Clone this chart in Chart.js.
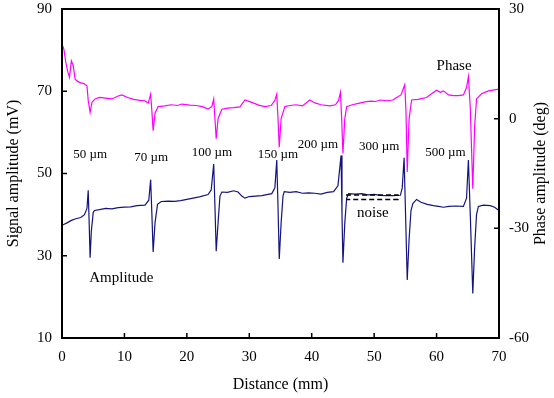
<!DOCTYPE html>
<html lang="en">
<head>
  <meta charset="UTF-8" />
  <title>Signal and phase amplitude</title>
  <style>
    html, body { margin: 0; padding: 0; background: #fff; }
    #wrap { width: 554px; height: 398px; }
  </style>
</head>
<body>
  <div id="wrap"><canvas id="chart" width="554" height="398"></canvas></div>

  <script src="https://cdn.jsdelivr.net/npm/chart.js"></script>
  <script>
    // Distance (mm) and signal amplitude (mV)
    const ampX = [0, 0.8, 1.5, 2.2, 3.0, 3.6, 4.0, 4.2, 4.35, 4.5, 4.7, 5.0, 5.2, 6, 7, 8, 9, 10, 11, 12, 13.3, 13.9, 14.2, 14.4, 14.6, 14.9, 15.3, 15.9, 17, 18, 19, 20, 21, 22, 23.4, 23.9, 24.3, 24.5, 24.7, 25.0, 25.3, 25.6, 26.5, 27.5, 28.2, 28.8, 29.3, 30, 31, 32, 33.6, 34.1, 34.4, 34.6, 34.8, 35.1, 35.4, 35.6, 36.5, 37.5, 38.5, 39.5, 40.5, 41.5, 42.5, 43.5, 44.2, 44.7, 44.85, 45.0, 45.3, 45.6, 45.9, 47, 48, 49, 50, 51, 52, 53, 54.2, 54.5, 54.8, 55.0, 55.3, 55.6, 55.9, 56.2, 56.8, 57.5, 58.5, 59.5, 60.3, 61.1, 62, 63, 64.3, 64.8, 65.1, 65.4, 65.8, 66.1, 66.4, 66.7, 67.5, 68.6, 69.3, 70];
    const ampY = [37.4, 38.0, 38.6, 39.0, 39.3, 40.0, 41.5, 45.9, 38, 29.5, 36, 40.5, 41.0, 41.2, 41.5, 41.4, 41.7, 41.8, 41.9, 42.2, 42.3, 43.5, 48.5, 40, 30.9, 38, 42.5, 43.2, 43.3, 43.2, 43.4, 43.7, 44.0, 44.3, 44.9, 46, 52.3, 42, 31.1, 38, 44.5, 45.5, 45.4, 45.8, 45.5, 44.5, 44.0, 44.4, 44.5, 44.6, 45.1, 46.5, 53.3, 42, 29.2, 38, 44.5, 45.6, 45.4, 45.6, 45.2, 45.3, 45.2, 45.0, 45.4, 45.6, 47, 54.4, 40, 28.3, 38, 44, 45.1, 45.0, 45.1, 44.8, 44.9, 44.7, 44.6, 44.6, 44.7, 46.5, 53.8, 42, 24.1, 34, 41, 42.7, 43.7, 43.0, 42.5, 42.2, 42.0, 41.8, 42.0, 42.1, 42.0, 44, 53.3, 40, 20.8, 32, 40, 42.0, 42.3, 42.2, 41.8, 41.0];

    // Distance (mm) and phase amplitude (deg)
    const phaseX = [0, 0.3, 0.6, 0.9, 1.2, 1.5, 1.8, 2.1, 2.5, 3.0, 3.5, 4.0, 4.2, 4.5, 4.8, 5.3, 6, 7, 8, 9, 9.6, 10.5, 11.5, 12.5, 13.3, 13.8, 14.2, 14.4, 14.6, 14.9, 15.4, 16.5, 17.5, 18.5, 19.2, 20.5, 21.5, 22.5, 23.4, 24.0, 24.3, 24.5, 24.7, 25.0, 25.6, 26.5, 27.5, 28.5, 29.3, 30.5, 31.5, 32.5, 33.5, 34.1, 34.4, 34.6, 34.8, 35.1, 35.7, 36.5, 37.5, 38.5, 39.7, 40.5, 41.5, 42.9, 43.8, 44.3, 44.6, 44.8, 45.0, 45.3, 45.6, 46.5, 47.5, 48.5, 49.5, 50.2, 51.0, 52.0, 53.0, 53.6, 54.3, 54.9, 55.1, 55.3, 55.6, 56.0, 57.0, 58.4, 59.2, 60.0, 60.6, 61.1, 61.9, 62.7, 63.5, 64.3, 64.8, 65.1, 65.4, 65.8, 66.1, 66.4, 67.2, 68.3, 69.0, 70.0];
    const phaseY = [20.4, 19, 15.5, 13, 11.3, 15.8, 14.5, 10.8, 10.2, 9.8, 9.6, 9.0, 5, 1.7, 4.5, 5.4, 5.8, 5.6, 5.4, 6.2, 6.5, 5.8, 5.3, 5.0, 4.9, 4.2, 6.7, 2, -3.3, 1.5, 3.3, 3.5, 3.8, 3.6, 4.0, 3.7, 3.6, 3.3, 2.6, 3.3, 5.4, 0, -5.5, 0, 2.6, 2.9, 3.0, 3.2, 5.1, 4.4, 3.7, 3.3, 3.6, 5, 6.7, 0, -7.8, 0, 3.3, 3.6, 3.8, 3.5, 5.1, 4.3, 3.8, 3.5, 3.8, 5, 7.2, 0, -9.5, 0, 3.3, 3.8, 4.2, 4.6, 4.8, 4.7, 5.1, 4.9, 5.1, 5.8, 6.5, 9.3, 2, -14.6, 0, 5.1, 5.3, 5.8, 6.8, 7.8, 7.2, 7.6, 6.5, 6.3, 6.3, 6.5, 8.5, 11.5, 3, -19.2, -2, 5.4, 6.8, 7.6, 7.8, 8.1];

    // Axis ticks
    const xTicks = [0, 10, 20, 30, 40, 50, 60, 70];
    const leftTicks = [10, 30, 50, 70, 90];
    const rightTicks = [-60, -30, 0, 30];

    // Text notes, placed in data units (x in mm, y in mV)
    const noteText = ['50 \u00b5m', '70 \u00b5m', '100 \u00b5m', '150 \u00b5m', '200 \u00b5m', '300 \u00b5m', '500 \u00b5m', 'Amplitude', 'Phase', 'noise'];
    const noteX = [4.5, 14.3, 24.0, 34.6, 41.0, 50.8, 61.4, 9.5, 62.8, 49.8];
    const noteY = [54.6, 53.9, 55.1, 54.6, 57.0, 56.5, 55.1, 24.5, 76.2, 40.3];
    const noteSize = [13, 13, 13, 13, 13, 13, 13, 15, 15, 15];

    // Noise band (dashed box, mm and mV)
    const noiseFrom = 45.5, noiseTo = 53.8;
    const noiseLevels = [44.8, 43.7];

    const rightTitle = 'Phase amplitude (deg)';
    const serif = '"Liberation Serif", "DejaVu Serif", serif';

    const frameAndNotes = {
      id: 'frameAndNotes',
      afterDatasetsDraw(chart) {
        const { ctx, chartArea: a, scales } = chart;
        const x = scales.x, y = scales.y, y2 = scales.y2;
        ctx.save();

        // noise band
        const nx0 = x.getPixelForValue(noiseFrom), nx1 = x.getPixelForValue(noiseTo);
        const ny0 = y.getPixelForValue(noiseLevels[0]), ny1 = y.getPixelForValue(noiseLevels[1]);
        ctx.strokeStyle = '#000';
        ctx.lineWidth = 1.5;
        ctx.setLineDash([5, 3]);
        ctx.beginPath();
        ctx.moveTo(nx0, ny0);
        ctx.lineTo(nx1, ny0);
        ctx.lineTo(nx1, ny1);
        ctx.lineTo(nx0, ny1);
        ctx.stroke();
        ctx.setLineDash([]);

        // frame
        ctx.lineWidth = 2;
        ctx.strokeRect(a.left, a.top, a.right - a.left, a.bottom - a.top);

        // inward ticks
        ctx.lineWidth = 1.5;
        ctx.beginPath();
        xTicks.forEach(v => {
          const px = x.getPixelForValue(v);
          ctx.moveTo(px, a.bottom);
          ctx.lineTo(px, a.bottom - 5);
        });
        leftTicks.forEach(v => {
          const py = y.getPixelForValue(v);
          ctx.moveTo(a.left, py);
          ctx.lineTo(a.left + 5, py);
        });
        rightTicks.forEach(v => {
          const py = y2.getPixelForValue(v);
          ctx.moveTo(a.right, py);
          ctx.lineTo(a.right - 5, py);
        });
        ctx.stroke();

        // text notes
        ctx.fillStyle = '#000';
        ctx.textAlign = 'center';
        ctx.textBaseline = 'middle';
        noteText.forEach((t, i) => {
          ctx.font = noteSize[i] + 'px ' + serif;
          ctx.fillText(t, x.getPixelForValue(noteX[i]), y.getPixelForValue(noteY[i]));
        });

        // right axis title, reading bottom to top
        ctx.font = '16px ' + serif;
        ctx.translate(y2.right - 13, (a.top + a.bottom) / 2);
        ctx.rotate(-Math.PI / 2);
        ctx.fillText(rightTitle, 0, 0);
        ctx.restore();
      }
    };

    const tickFont = { family: serif, size: 15 };
    const titleFont = { family: serif, size: 16 };

    function fixWidth(w) {
      return s => { s.width = w; s.paddingTop = 0; s.paddingBottom = 0; };
    }

    new Chart(document.getElementById('chart'), {
      type: 'line',
      data: {
        datasets: [
          {
            label: 'Amplitude',
            data: ampX.map((v, i) => ({ x: v, y: ampY[i] })),
            borderColor: '#14147f',
            borderWidth: 1.2,
            pointRadius: 0,
            tension: 0,
            yAxisID: 'y'
          },
          {
            label: 'Phase',
            data: phaseX.map((v, i) => ({ x: v, y: phaseY[i] })),
            borderColor: '#ff00ff',
            borderWidth: 1.2,
            pointRadius: 0,
            tension: 0,
            yAxisID: 'y2'
          }
        ]
      },
      options: {
        responsive: false,
        animation: false,
        layout: { autoPadding: false, padding: { top: 9, left: 0, right: 0, bottom: 0 } },
        plugins: {
          legend: { display: false },
          tooltip: { enabled: false }
        },
        scales: {
          x: {
            type: 'linear',
            min: 0,
            max: 70,
            afterFit: s => { s.height = 60; s.paddingLeft = 0; s.paddingRight = 0; },
            afterBuildTicks: s => { s.ticks = xTicks.map(v => ({ value: v })); },
            ticks: { color: '#000', font: tickFont, padding: 10, maxRotation: 0 },
            grid: { display: false, drawTicks: false },
            border: { display: false },
            title: { display: true, text: 'Distance (mm)', color: '#000', font: titleFont, padding: 4 }
          },
          y: {
            position: 'left',
            min: 10,
            max: 90,
            afterFit: fixWidth(62),
            afterBuildTicks: s => { s.ticks = leftTicks.map(v => ({ value: v })); },
            ticks: { color: '#000', font: tickFont, padding: 10 },
            grid: { display: false, drawTicks: false },
            border: { display: false },
            title: { display: true, text: 'Signal amplitude (mV)', color: '#000', font: titleFont, padding: 4 }
          },
          y2: {
            position: 'right',
            min: -60,
            max: 30,
            afterFit: fixWidth(55),
            afterBuildTicks: s => { s.ticks = rightTicks.map(v => ({ value: v })); },
            ticks: { color: '#000', font: tickFont, padding: 10 },
            grid: { display: false, drawTicks: false },
            border: { display: false },
            title: { display: false }
          }
        }
      },
      plugins: [frameAndNotes]
    });
  </script>
</body>
</html>
